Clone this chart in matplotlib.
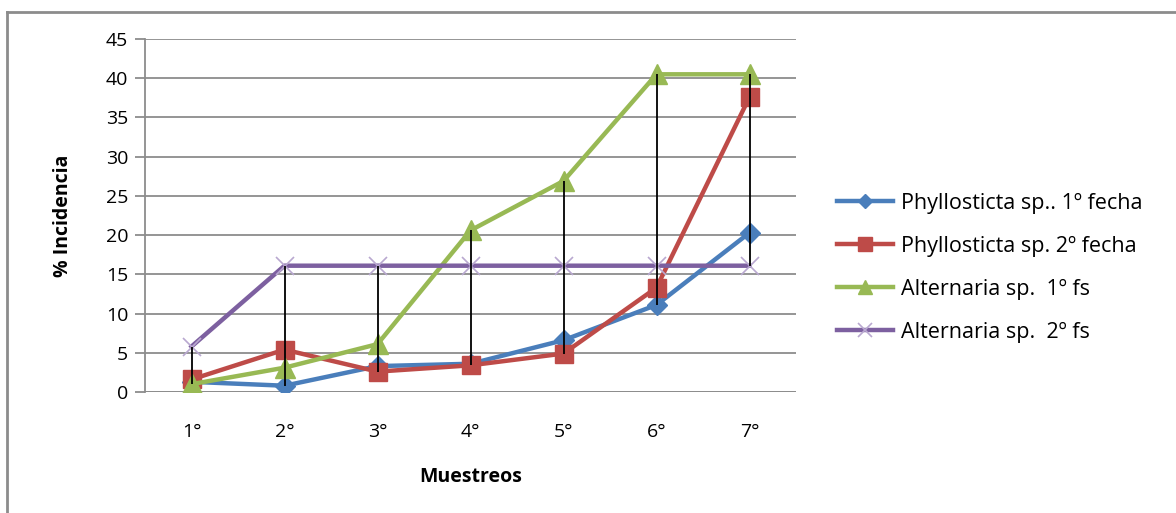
import numpy as np
import matplotlib.pyplot as plt
from matplotlib.lines import Line2D

plt.rcParams['font.family'] = ['Open Sans', 'DejaVu Sans']

# datos de incidencia por muestreo
muestreos = ['1°', '2°', '3°', '4°', '5°', '6°', '7°']
phyllo_1 = [1.3, 0.8, 3.3, 3.6, 6.6, 11.1, 20.3]
phyllo_2 = [1.6, 5.4, 2.6, 3.4, 4.9, 13.3, 37.6]
altern_1 = [1.0, 3.1, 6.1, 20.6, 26.9, 40.5, 40.5]
altern_2 = [5.8, 16.1, 16.1, 16.1, 16.1, 16.1, 16.1]

nombres = ['Phyllosticta sp.. 1º fecha', 'Phyllosticta sp. 2º fecha',
           'Alternaria sp.  1º fs', 'Alternaria sp.  2º fs']

fig = plt.figure(figsize=(11.76, 5.13), dpi=100)
ax = fig.add_axes([145/1176, 1-392/513, (796-145)/1176, (392-39)/513])

x = np.arange(len(muestreos))
series = [phyllo_1, phyllo_2, altern_1, altern_2]

# lineas max-min (negras) en cada muestreo
arr = np.array(series)
ax.vlines(x, arr.min(axis=0), arr.max(axis=0), color='black', lw=1.3, zorder=6)

estilos = [
    dict(color='#4A7EBB', marker='D', ms=10, mfc='#4A7EBB', mec='#4A7EBB'),
    dict(color='#BE4B48', marker='s', ms=13, mfc='#BE4B48', mec='#BE4B48'),
    dict(color='#98B954', marker='^', ms=14, mfc='#98B954', mec='#98B954'),
    dict(color='#7D60A0', marker='x', ms=13, mfc='none', mec='#B9A8D0', mew=1.2),
]
handles = []
for ys, nom, st in zip(series, nombres, estilos):
    ax.plot(x, ys, lw=3.2, zorder=4, **st)
    hst = dict(st)
    hst['ms'] = st['ms'] * 0.75
    handles.append(Line2D([], [], lw=3.2, label=nom, **hst))

ax.set_xlim(-0.5, 6.5)
ax.set_ylim(0, 45)
ax.set_yticks(np.arange(0, 46, 5))
ax.set_xticks(x)
ax.set_xticklabels(muestreos)
ax.yaxis.grid(True, color='#8C8C8C', lw=1.3)
ax.set_axisbelow(True)
for s in ['top', 'right', 'bottom']:
    ax.spines[s].set_visible(False)
ax.spines['left'].set_color('#8C8C8C')
ax.spines['left'].set_linewidth(1.3)
ax.axhline(0, color='#8C8C8C', lw=1.3, zorder=1)
ax.tick_params(axis='y', length=7, color='#8C8C8C', width=1.3, labelsize=14, pad=5)
ax.tick_params(axis='x', length=0, labelsize=14, pad=22)

ax.set_ylabel('% Incidencia', fontsize=14, fontweight='bold', labelpad=24)
ax.set_xlabel('Muestreos', fontsize=14, fontweight='bold', labelpad=19)

fig.legend(handles=handles, loc='center left', bbox_to_anchor=(818/1176, 1-268/513),
           frameon=False, fontsize=15.5, handlelength=2.6, labelspacing=1.02,
           handletextpad=0.35)

# marco del grafico
fig.add_artist(Line2D([7/1176, 7/1176], [-0.1, 1-12/513], color='#8C8C8C', lw=2,
                      transform=fig.transFigure))
fig.add_artist(Line2D([7/1176, 1.1], [1-12/513, 1-12/513], color='#8C8C8C', lw=2,
                      transform=fig.transFigure))

fig.savefig('out.png', dpi=100)
